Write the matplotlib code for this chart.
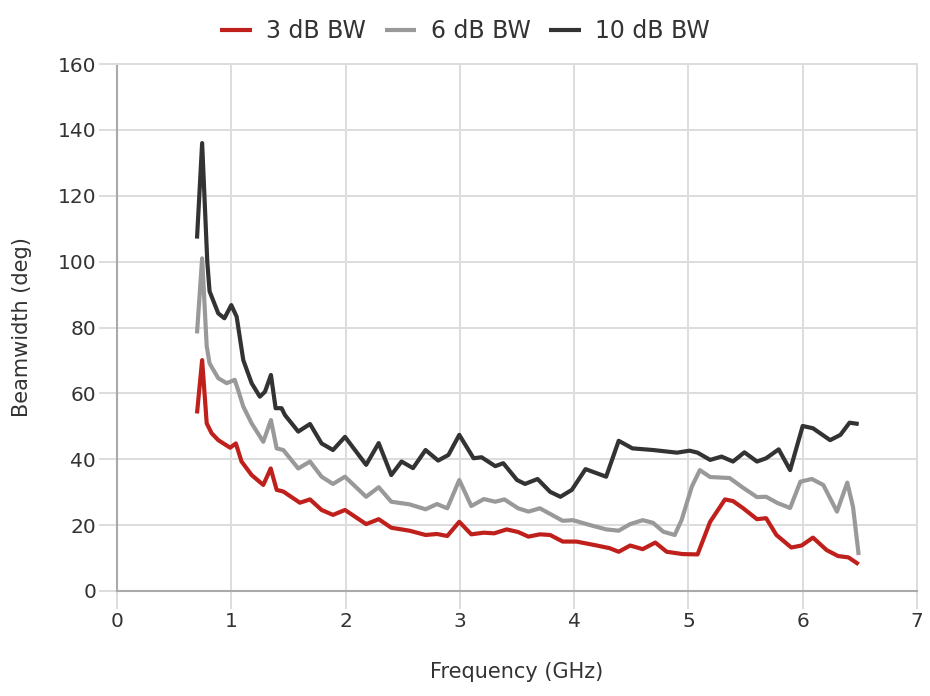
import matplotlib
matplotlib.use("Agg")
import matplotlib.pyplot as plt

# frequency (GHz) / beamwidth (deg)
f_3db = [0.70, 0.745, 0.785, 0.828, 0.886, 0.99, 1.04, 1.09, 1.178, 1.28,
         1.345, 1.397, 1.455, 1.60, 1.689, 1.79, 1.89, 1.995, 2.18, 2.29,
         2.40, 2.56, 2.70, 2.80, 2.89, 2.995, 3.10, 3.21, 3.30, 3.41,
         3.51, 3.60, 3.70, 3.79, 3.90, 4.02, 4.17, 4.31, 4.39, 4.49,
         4.60, 4.71, 4.81, 4.95, 5.08, 5.19, 5.32, 5.39, 5.48, 5.60,
         5.68, 5.77, 5.90, 5.99, 6.09, 6.21, 6.31, 6.40, 6.49]
bw_3db = [53.9, 70.1, 50.9, 47.9, 45.8, 43.5, 44.8, 39.3, 35.2, 32.2,
          37.2, 30.7, 30.2, 26.8, 27.8, 24.6, 23.1, 24.6, 20.3, 21.8,
          19.2, 18.3, 17.0, 17.3, 16.7, 21.0, 17.2, 17.7, 17.5, 18.7,
          17.9, 16.5, 17.2, 17.0, 15.0, 15.0, 14.0, 13.0, 11.9, 13.8,
          12.7, 14.7, 11.9, 11.2, 11.1, 21.0, 27.8, 27.3, 25.1, 21.8,
          22.1, 17.0, 13.2, 13.8, 16.2, 12.4, 10.6, 10.2, 8.1]

f_6db = [0.70, 0.745, 0.785, 0.81, 0.886, 0.96, 1.03, 1.06, 1.105, 1.178,
         1.28, 1.347, 1.397, 1.455, 1.586, 1.689, 1.79, 1.89, 1.995, 2.18,
         2.29, 2.40, 2.56, 2.70, 2.80, 2.89, 2.995, 3.10, 3.21, 3.31,
         3.39, 3.51, 3.60, 3.70, 3.79, 3.90, 3.99, 4.14, 4.28, 4.39,
         4.49, 4.60, 4.69, 4.78, 4.88, 4.94, 5.03, 5.10, 5.19, 5.36,
         5.48, 5.60, 5.68, 5.78, 5.89, 5.98, 6.08, 6.18, 6.30, 6.39,
         6.44, 6.49]
bw_6db = [78.2, 101.0, 74.3, 69.1, 64.6, 63.1, 64.1, 61.0, 56.0, 50.9,
          45.3, 51.9, 43.3, 42.8, 37.2, 39.3, 34.7, 32.5, 34.7, 28.6,
          31.5, 27.1, 26.3, 24.8, 26.4, 25.1, 33.7, 25.8, 27.9, 27.1,
          27.8, 25.1, 24.1, 25.1, 23.4, 21.3, 21.5, 20.0, 18.7, 18.3,
          20.3, 21.5, 20.7, 18.0, 17.0, 21.5, 31.7, 36.7, 34.6, 34.3,
          31.3, 28.5, 28.6, 26.7, 25.2, 33.2, 34.0, 32.2, 24.1, 32.9,
          25.6, 10.9]

f_10db = [0.70, 0.745, 0.79, 0.81, 0.886, 0.94, 1.0, 1.047, 1.105, 1.178,
          1.25, 1.295, 1.347, 1.388, 1.44, 1.47, 1.586, 1.689, 1.79, 1.89,
          1.995, 2.18, 2.29, 2.40, 2.49, 2.59, 2.70, 2.81, 2.90, 2.995,
          3.12, 3.19, 3.31, 3.38, 3.50, 3.57, 3.68, 3.79, 3.88, 3.98,
          4.10, 4.28, 4.39, 4.51, 4.69, 4.90, 5.01, 5.08, 5.19, 5.29,
          5.39, 5.49, 5.60, 5.68, 5.79, 5.89, 6.00, 6.09, 6.24, 6.33,
          6.41, 6.49]
bw_10db = [107.0, 136.0, 100.0, 91.0, 84.3, 82.8, 86.8, 83.3, 70.1, 63.1,
           59.0, 60.5, 65.6, 55.5, 55.5, 53.4, 48.4, 50.7, 44.8, 42.8,
           46.8, 38.3, 44.9, 35.2, 39.3, 37.3, 42.8, 39.6, 41.3, 47.4,
           40.3, 40.6, 37.9, 38.8, 33.7, 32.5, 34.0, 30.1, 28.6, 30.7,
           37.0, 34.7, 45.6, 43.3, 42.8, 42.0, 42.6, 42.0, 39.8, 40.8,
           39.3, 42.1, 39.3, 40.3, 43.0, 36.7, 50.1, 49.4, 45.8, 47.4,
           51.1, 50.7]

series = [
    ("3 dB BW", f_3db, bw_3db, "#c0201c"),
    ("6 dB BW", f_6db, bw_6db, "#999999"),
    ("10 dB BW", f_10db, bw_10db, "#333333"),
]

plt.rcParams["font.family"] = ["DejaVu Sans"]

fig = plt.figure(figsize=(9.3, 6.96), dpi=100)
ax = fig.add_axes([0.1258, 0.1509, 0.8602, 0.7571])

for name, f, bw, col in series:
    ax.plot(f, bw, color=col, lw=3.0, label=name,
            solid_joinstyle="round", solid_capstyle="butt")

ax.set_xlim(0, 7)
ax.set_ylim(0, 160)
ax.set_xticks(range(0, 8))
ax.set_yticks(range(0, 161, 20))
ax.grid(True, color="#dddddd", lw=1.4)
ax.set_axisbelow(True)
for side in ["top", "right"]:
    ax.spines[side].set_color("#dddddd")
    ax.spines[side].set_linewidth(1.4)
for side in ["left", "bottom"]:
    ax.spines[side].set_color("#aaaaaa")
    ax.spines[side].set_linewidth(1.5)
ax.tick_params(axis="both", length=13, width=1.4, color="#dddddd",
               labelsize=14.5, labelcolor="#333333", pad=2)

ax.set_xlabel("Frequency (GHz)", fontsize=15, color="#333333")
ax.set_ylabel("Beamwidth (deg)", fontsize=15, color="#333333")
ax.xaxis.set_label_coords(0.5, -0.154, transform=ax.transAxes)
ax.xaxis.label.set_va("center")
ax.yaxis.set_label_coords(-0.119, 0.5, transform=ax.transAxes)
ax.yaxis.label.set_va("center")

fig.legend(loc="center", bbox_to_anchor=(0.5, 0.955), ncol=3, frameon=False,
           fontsize=17, handlelength=1.35, handletextpad=0.6, columnspacing=0.8,
           labelcolor="#333333")

fig.savefig("out.png", dpi=100)
